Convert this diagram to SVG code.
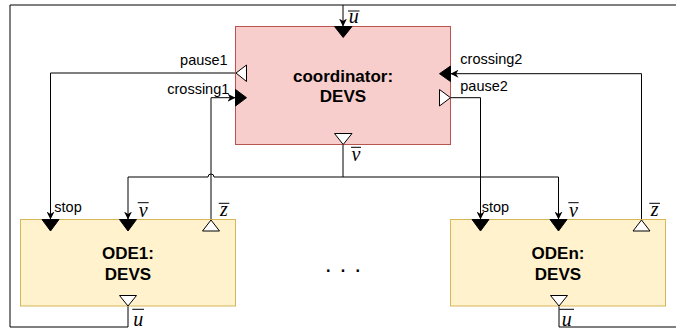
<svg xmlns="http://www.w3.org/2000/svg" width="676" height="329" viewBox="0 0 676 329">
  <style>
    .box-coord { fill: #f8cecc; stroke: #b85450; stroke-width: 1; }
    .box-ode { fill: #fff2cc; stroke: #d6b656; stroke-width: 1; }
    .title { font-family: "Liberation Sans", Arial, Helvetica, sans-serif; font-size: 17px; font-weight: bold; fill: #000; text-anchor: middle; }
    .lbl { font-family: "Liberation Sans", Arial, Helvetica, sans-serif; font-size: 14.5px; fill: #000; }
    .math { font-family: "Liberation Serif", "Times New Roman", serif; font-style: italic; font-size: 20px; fill: #000; text-anchor: middle; }
    .bar { stroke: #000; stroke-width: 1; }
    .in { fill: #000; stroke: #000; stroke-width: 1; }
    .out { fill: #fff; stroke: #000; stroke-width: 1; }
    .wire { fill: none; stroke: #000; stroke-width: 1; }
    .wire-arrow { fill: none; stroke: #000; stroke-width: 1; marker-end: url(#arrow); }
    .dots { font-family: "Liberation Sans", Arial, sans-serif; font-size: 24px; fill: #000; text-anchor: middle; }
  </style>
  <defs>
    <marker id="arrow" viewBox="0 0 10 10" refX="10" refY="5" markerWidth="8" markerHeight="8" markerUnits="userSpaceOnUse" orient="auto">
      <path d="M0,0 L10,5 L0,10 L3,5 Z" fill="#000"/>
    </marker>
  </defs>

  <!-- connectors -->
  <g id="connectors">
    <!-- feedback loop: ODE1 output u back to the coordinator input -->
    <path class="wire" d="M128,306 V327 H10 V5 H676"/>
    <path class="wire-arrow" d="M343,5 V26.5"/>
    <path class="wire" d="M559,306 V327 H676"/>
    <!-- coordinator v to both ODE blocks (jump over the z line) -->
    <path class="wire-arrow" d="M343,144.5 V177 H214 A3,3 0 0 0 208,177 H128 V219.5"/>
    <path class="wire-arrow" d="M343,177 H558.5 V219.5"/>
    <!-- pause1 -> ODE1 stop -->
    <path class="wire-arrow" d="M236,73 H50.5 V219.5"/>
    <!-- ODE1 z -> crossing1 -->
    <path class="wire-arrow" d="M211,220 V97.7 H235.5"/>
    <!-- ODEn z -> crossing2 -->
    <path class="wire-arrow" d="M641.5,220 V73.7 H450.5"/>
    <!-- pause2 -> ODEn stop -->
    <path class="wire-arrow" d="M450.5,97.7 H480.5 V219.5"/>
  </g>

  <!-- coordinator -->
  <g id="coordinator">
    <rect class="box-coord" x="235.5" y="26.5" width="215" height="118"/>
    <text class="title" x="343" y="82">coordinator:</text>
    <text class="title" x="343" y="101.7">DEVS</text>
    <polygon class="in" points="334.5,26.5 352,26.5 343.2,37.5"/>
    <polygon class="out" points="334.5,133.5 352,133.5 343.2,144.5"/>
    <polygon class="out" points="236,73 246.5,65 246.5,81.5"/>
    <polygon class="in" points="235.5,89.5 235.5,106 246.5,97.7"/>
    <polygon class="in" points="450.5,66 450.5,81.5 439.5,73.7"/>
    <polygon class="out" points="439.5,89.5 439.5,106 450.5,97.7"/>
    <text class="lbl" x="227.7" y="65" text-anchor="end">pause1</text>
    <text class="lbl" x="229.3" y="94.3" text-anchor="end">crossing1</text>
    <text class="lbl" x="460.3" y="64.4">crossing2</text>
    <text class="lbl" x="460.3" y="90.7">pause2</text>
    <text class="math" x="353.8" y="23.3">u</text>
    <line class="bar" x1="348" y1="11" x2="359.5" y2="11"/>
    <text class="math" x="356" y="161.3">v</text>
    <line class="bar" x1="351" y1="147.3" x2="361" y2="147.3"/>
  </g>

  <!-- ODE1 -->
  <g id="ode1">
    <rect class="box-ode" x="20.5" y="219.5" width="215" height="86.5"/>
    <text class="title" x="128" y="258.7">ODE1:</text>
    <text class="title" x="128" y="280">DEVS</text>
    <polygon class="in" points="42,219.5 59,219.5 50.5,231"/>
    <polygon class="in" points="119.5,219.5 136.5,219.5 128,231"/>
    <polygon class="out" points="202.5,231 219.5,231 211,220"/>
    <polygon class="out" points="119.5,295.5 136.5,295.5 128,306"/>
    <text class="lbl" x="54.3" y="212">stop</text>
    <text class="math" x="143.2" y="216.7">v</text>
    <line class="bar" x1="137.7" y1="202.7" x2="148.7" y2="202.7"/>
    <text class="math" x="224" y="216">z</text>
    <line class="bar" x1="218.7" y1="203.3" x2="229.3" y2="203.3"/>
    <text class="math" x="138.2" y="326">u</text>
    <line class="bar" x1="132.3" y1="309.3" x2="144" y2="309.3"/>
  </g>

  <!-- ellipsis between the ODE blocks -->
  <g id="ellipsis">
    <text class="dots" x="343" y="277.3">· · ·</text>
  </g>

  <!-- ODEn -->
  <g id="oden">
    <rect class="box-ode" x="450.5" y="219.5" width="215" height="86.5"/>
    <text class="title" x="558" y="258.7">ODEn:</text>
    <text class="title" x="558" y="280">DEVS</text>
    <polygon class="in" points="472,219.5 489,219.5 480.5,231"/>
    <polygon class="in" points="550,219.5 567,219.5 558.5,231"/>
    <polygon class="out" points="633,231 650,231 641.5,220"/>
    <polygon class="out" points="550.5,295.5 567.5,295.5 559,306"/>
    <text class="lbl" x="481.7" y="212">stop</text>
    <text class="math" x="573.5" y="216.7">v</text>
    <line class="bar" x1="568.3" y1="202.7" x2="578.7" y2="202.7"/>
    <text class="math" x="654.7" y="216">z</text>
    <line class="bar" x1="649.3" y1="203.3" x2="660" y2="203.3"/>
    <text class="math" x="566.7" y="326">u</text>
    <line class="bar" x1="559.3" y1="309.3" x2="574" y2="309.3"/>
  </g>
</svg>
